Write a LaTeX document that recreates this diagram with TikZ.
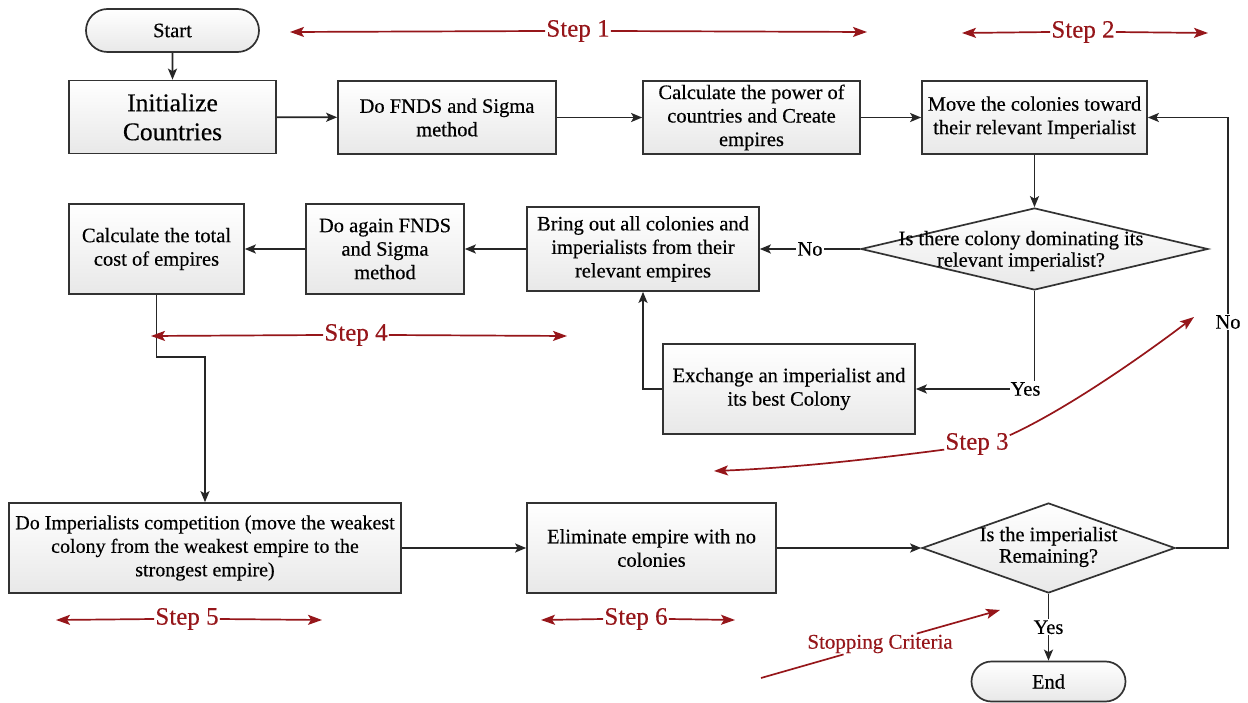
\documentclass[tikz,border=0pt]{standalone}
\usepackage{fontspec}
\setmainfont{Liberation Serif}[FakeBold=0.4]
\newfontfamily\stepfont{Liberation Serif}[FakeBold=0.3]
\usetikzlibrary{arrows.meta,shapes.geometric,shapes.misc}
\definecolor{stepred}{RGB}{150,22,26}
\definecolor{edgegray}{RGB}{50,50,50}
\begin{document}
\begin{tikzpicture}[x=1pt,y=-1pt,
 box/.style={draw=edgegray, line width=1.7pt, top color=white, bottom color=black!9, align=center, inner sep=2pt, font=\fontsize{20.5}{23.5}\selectfont, text=black},
 term/.style={box, rounded rectangle},
 dia/.style={diamond, draw=edgegray, line width=1.7pt, top color=white, bottom color=black!9, inner sep=0pt},
 diatext/.style={align=center, inner sep=0pt, font=\fontsize{20.5}{21.5}\selectfont},
 arr/.style={draw=black!85, line width=1.7pt, -{Stealth[length=11pt,width=9pt,inset=2.5pt]}},
 lbl/.style={fill=white, inner sep=1pt, font=\fontsize{20.5}{23}\selectfont},
 steplbl/.style={text=stepred, inner sep=1pt, font=\stepfont\fontsize{25}{28}\selectfont},
 rarr/.style={draw=stepred, line width=1.7pt, -{Stealth[length=14pt,width=10pt,inset=3pt]}},
 rln/.style={draw=stepred, line width=1.7pt},
]
\fill[white] (0,0) rectangle (1248,703);
\useasboundingbox (0,0) rectangle (1248,703);

% nodes
\node[term, minimum width=177pt, minimum height=43pt] (start) at (172.5,30.5) {Start};
\node[box, minimum width=207pt, minimum height=73pt, font=\fontsize{25.5}{29}\selectfont] (init) at (172.5,117) {Initialize\\Countries};
\node[box, minimum width=218pt, minimum height=73pt] (fnds) at (447,117.5) {Do FNDS and Sigma\\method};
\node[box, minimum width=217pt, minimum height=73pt, font=\fontsize{20.5}{23.5}\selectfont, inner sep=0pt] (power) at (751.5,117.5) {Calculate the power of\\countries and Create\\empires};
\node[box, minimum width=225pt, minimum height=73pt] (move) at (1034.5,117.5) {Move the colonies toward\\their relevant Imperialist};

\node[dia, minimum width=347pt, minimum height=82pt] (d1) at (1034.5,249) {};
\node[diatext] (d1t) at (1021,251) {Is there colony dominating its\\relevant imperialist?};

\node[box, minimum width=232pt, minimum height=84pt] (bring) at (643,249) {Bring out all colonies and\\imperialists from their\\relevant empires};
\node[box, minimum width=158pt, minimum height=90pt] (again) at (385,249) {Do again FNDS\\and Sigma\\method};
\node[box, minimum width=175pt, minimum height=90pt] (ctot) at (156.5,249) {Calculate the total\\cost of empires};
\node[box, minimum width=252pt, minimum height=90pt] (exch) at (789,389) {Exchange an imperialist and\\its best Colony};

\node[box, minimum width=392pt, minimum height=90pt, inner sep=0pt, font=\fontsize{20}{23.5}\selectfont] (comp) at (205,548) {Do Imperialists competition (move the weakest\\colony from the weakest empire to the\\strongest empire)};
\node[box, minimum width=249pt, minimum height=90pt] (elim) at (651.5,548) {Eliminate empire with no\\colonies};
\node[dia, minimum width=253pt, minimum height=90pt] (d2) at (1048.5,548) {};
\node[diatext] (d2t) at (1048.5,547) {Is the imperialist\\Remaining?};
\node[term, minimum width=158pt, minimum height=40pt] (end) at (1048.5,681.5) {End};

% connectors
\draw[arr] (start) -- (init);
\draw[arr] (init) -- (fnds);
\draw[arr] (fnds) -- (power);
\draw[arr] (power) -- (move);
\draw[arr] (move) -- (d1);
\draw[arr] (d1.west) -- node[lbl]{No} (bring.east);
\draw[arr] (d1.south) |- node[lbl, pos=0.5, xshift=-9pt]{Yes} (exch.east);
\draw[arr] (exch.west) -| (bring.south);
\draw[arr] (bring) -- (again);
\draw[arr] (again) -- (ctot);
\coordinate (jog) at (156.5,357);
\draw[arr] (ctot.south) -- (jog) -| (comp.north);
\draw[arr] (comp) -- (elim);
\draw[arr] (elim) -- (d2);
\coordinate (loop) at (1228,548);
\draw[arr] (d2.east) -- (loop) |- (move.east);
\node[lbl] (no2) at (1228,322) {No};
\draw[arr] (d2.south) -- node[lbl]{Yes} (end.north);

% step annotations
\node[steplbl] (s1) at (578,31) {Step 1};
\coordinate (s1a) at (290,32); \coordinate (s1b) at (867,32);
\draw[rarr] (s1.west) -- (s1a); \draw[rarr] (s1.east) -- (s1b);

\node[steplbl] (s2) at (1083,32) {Step 2};
\coordinate (s2a) at (962,33); \coordinate (s2b) at (1208,33);
\draw[rarr] (s2.west) -- (s2a); \draw[rarr] (s2.east) -- (s2b);

\node[steplbl] (s4) at (356,335) {Step 4};
\coordinate (s4a) at (151,336); \coordinate (s4b) at (567,336);
\draw[rarr] (s4.west) -- (s4a); \draw[rarr] (s4.east) -- (s4b);

\node[steplbl] (s5) at (187,619) {Step 5};
\coordinate (s5a) at (56,620); \coordinate (s5b) at (322,620);
\draw[rarr] (s5.west) -- (s5a); \draw[rarr] (s5.east) -- (s5b);

\node[steplbl] (s6) at (636,619) {Step 6};
\coordinate (s6a) at (541,620); \coordinate (s6b) at (735,620);
\draw[rarr] (s6.west) -- (s6a); \draw[rarr] (s6.east) -- (s6b);

\node[steplbl] (s3) at (977,444) {Step 3};
\coordinate (s3a) at (714,471); \coordinate (s3b) at (1194,317);
\draw[rarr] (s3.base west) .. controls (865,460) and (790,468) .. (s3a);
\draw[rarr] (s3.15) .. controls (1065,410) and (1140,358) .. (s3b);

\node[steplbl, font=\stepfont\fontsize{21}{24}\selectfont] (stop) at (880,644) {Stopping Criteria};
\coordinate (sta) at (761,678); \coordinate (stb) at (1000,610);
\draw[rln] (sta) -- (stop);
\draw[rarr] (stop) -- (stb);
\end{tikzpicture}
\end{document}
